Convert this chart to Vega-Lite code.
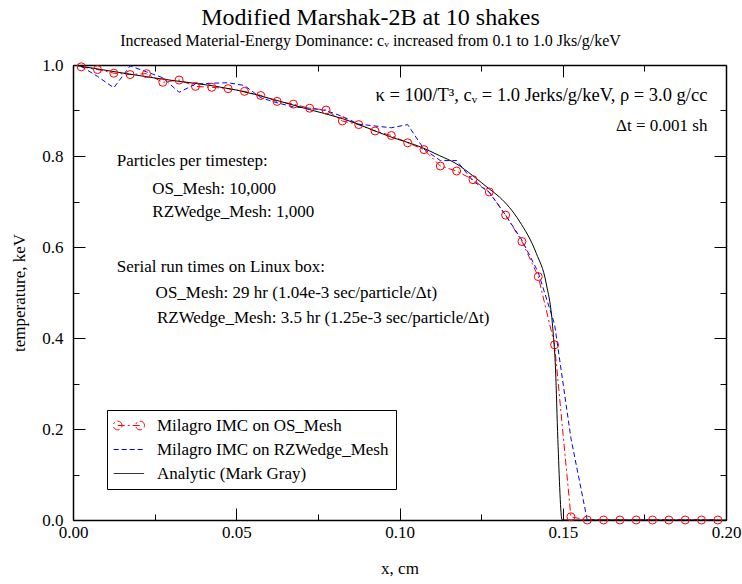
{
  "$schema": "https://vega.github.io/schema/vega-lite/v6.json",
  "width": 653,
  "height": 455,
  "autosize": "none",
  "padding": {"left": 73, "top": 65, "right": 16, "bottom": 64},
  "background": "white",
  "title": {
    "text": "Modified Marshak-2B at 10 shakes",
    "subtitle": "Increased Material-Energy Dominance: cᵥ increased from 0.1 to 1.0 Jks/g/keV",
    "font": "Liberation Serif",
    "fontSize": 24,
    "fontWeight": "normal",
    "color": "black",
    "subtitleFont": "Liberation Serif",
    "subtitleFontSize": 16,
    "subtitleColor": "black",
    "subtitlePadding": 3,
    "anchor": "middle",
    "dx": -29,
    "offset": 7
  },
  "config": {
    "view": {"stroke": null},
    "axis": {
      "domain": false,
      "grid": false,
      "offset": 0,
      "labelFont": "Liberation Serif",
      "labelFontSize": 17,
      "labelColor": "black",
      "labelFlush": false,
      "labelOverlap": false,
      "titleFont": "Liberation Serif",
      "titleFontSize": 17,
      "titleFontWeight": "normal",
      "titleColor": "black",
      "tickColor": "black",
      "tickWidth": 1,
      "domainColor": "black",
      "domainWidth": 1.5
    }
  },
  "datasets": {
    "curves": [
      {"series": "Milagro IMC on OS_Mesh", "x": 0.0025, "T": 0.996},
      {"series": "Milagro IMC on OS_Mesh", "x": 0.0075, "T": 0.990},
      {"series": "Milagro IMC on OS_Mesh", "x": 0.0125, "T": 0.982},
      {"series": "Milagro IMC on OS_Mesh", "x": 0.0175, "T": 0.979},
      {"series": "Milagro IMC on OS_Mesh", "x": 0.0225, "T": 0.981},
      {"series": "Milagro IMC on OS_Mesh", "x": 0.0275, "T": 0.962},
      {"series": "Milagro IMC on OS_Mesh", "x": 0.0325, "T": 0.967},
      {"series": "Milagro IMC on OS_Mesh", "x": 0.0375, "T": 0.953},
      {"series": "Milagro IMC on OS_Mesh", "x": 0.0425, "T": 0.951},
      {"series": "Milagro IMC on OS_Mesh", "x": 0.0475, "T": 0.948},
      {"series": "Milagro IMC on OS_Mesh", "x": 0.0525, "T": 0.942},
      {"series": "Milagro IMC on OS_Mesh", "x": 0.0575, "T": 0.933},
      {"series": "Milagro IMC on OS_Mesh", "x": 0.0625, "T": 0.920},
      {"series": "Milagro IMC on OS_Mesh", "x": 0.0675, "T": 0.914},
      {"series": "Milagro IMC on OS_Mesh", "x": 0.0725, "T": 0.905},
      {"series": "Milagro IMC on OS_Mesh", "x": 0.0775, "T": 0.901},
      {"series": "Milagro IMC on OS_Mesh", "x": 0.0825, "T": 0.877},
      {"series": "Milagro IMC on OS_Mesh", "x": 0.0875, "T": 0.869},
      {"series": "Milagro IMC on OS_Mesh", "x": 0.0925, "T": 0.855},
      {"series": "Milagro IMC on OS_Mesh", "x": 0.0975, "T": 0.845},
      {"series": "Milagro IMC on OS_Mesh", "x": 0.1025, "T": 0.829},
      {"series": "Milagro IMC on OS_Mesh", "x": 0.1075, "T": 0.814},
      {"series": "Milagro IMC on OS_Mesh", "x": 0.1125, "T": 0.778},
      {"series": "Milagro IMC on OS_Mesh", "x": 0.1175, "T": 0.767},
      {"series": "Milagro IMC on OS_Mesh", "x": 0.1225, "T": 0.748},
      {"series": "Milagro IMC on OS_Mesh", "x": 0.1275, "T": 0.721},
      {"series": "Milagro IMC on OS_Mesh", "x": 0.1325, "T": 0.670},
      {"series": "Milagro IMC on OS_Mesh", "x": 0.1375, "T": 0.612},
      {"series": "Milagro IMC on OS_Mesh", "x": 0.1425, "T": 0.535},
      {"series": "Milagro IMC on OS_Mesh", "x": 0.1475, "T": 0.385},
      {"series": "Milagro IMC on OS_Mesh", "x": 0.1525, "T": 0.007},
      {"series": "Milagro IMC on OS_Mesh", "x": 0.1575, "T": 0},
      {"series": "Milagro IMC on OS_Mesh", "x": 0.1625, "T": 0},
      {"series": "Milagro IMC on OS_Mesh", "x": 0.1675, "T": 0},
      {"series": "Milagro IMC on OS_Mesh", "x": 0.1725, "T": 0},
      {"series": "Milagro IMC on OS_Mesh", "x": 0.1775, "T": 0},
      {"series": "Milagro IMC on OS_Mesh", "x": 0.1825, "T": 0},
      {"series": "Milagro IMC on OS_Mesh", "x": 0.1875, "T": 0},
      {"series": "Milagro IMC on OS_Mesh", "x": 0.1925, "T": 0},
      {"series": "Milagro IMC on OS_Mesh", "x": 0.1975, "T": 0},
      {"series": "Milagro IMC on RZWedge_Mesh", "x": 0.0025, "T": 0.997},
      {"series": "Milagro IMC on RZWedge_Mesh", "x": 0.0075, "T": 0.975},
      {"series": "Milagro IMC on RZWedge_Mesh", "x": 0.0125, "T": 0.950},
      {"series": "Milagro IMC on RZWedge_Mesh", "x": 0.0175, "T": 0.998},
      {"series": "Milagro IMC on RZWedge_Mesh", "x": 0.0225, "T": 0.985},
      {"series": "Milagro IMC on RZWedge_Mesh", "x": 0.0275, "T": 0.972},
      {"series": "Milagro IMC on RZWedge_Mesh", "x": 0.0325, "T": 0.940},
      {"series": "Milagro IMC on RZWedge_Mesh", "x": 0.0375, "T": 0.958},
      {"series": "Milagro IMC on RZWedge_Mesh", "x": 0.0425, "T": 0.960},
      {"series": "Milagro IMC on RZWedge_Mesh", "x": 0.0475, "T": 0.961},
      {"series": "Milagro IMC on RZWedge_Mesh", "x": 0.0525, "T": 0.955},
      {"series": "Milagro IMC on RZWedge_Mesh", "x": 0.0575, "T": 0.928},
      {"series": "Milagro IMC on RZWedge_Mesh", "x": 0.0625, "T": 0.917},
      {"series": "Milagro IMC on RZWedge_Mesh", "x": 0.0675, "T": 0.908},
      {"series": "Milagro IMC on RZWedge_Mesh", "x": 0.0725, "T": 0.905},
      {"series": "Milagro IMC on RZWedge_Mesh", "x": 0.0775, "T": 0.900},
      {"series": "Milagro IMC on RZWedge_Mesh", "x": 0.0825, "T": 0.887},
      {"series": "Milagro IMC on RZWedge_Mesh", "x": 0.0875, "T": 0.870},
      {"series": "Milagro IMC on RZWedge_Mesh", "x": 0.0925, "T": 0.866},
      {"series": "Milagro IMC on RZWedge_Mesh", "x": 0.0975, "T": 0.862},
      {"series": "Milagro IMC on RZWedge_Mesh", "x": 0.1025, "T": 0.869},
      {"series": "Milagro IMC on RZWedge_Mesh", "x": 0.1075, "T": 0.815},
      {"series": "Milagro IMC on RZWedge_Mesh", "x": 0.1125, "T": 0.790},
      {"series": "Milagro IMC on RZWedge_Mesh", "x": 0.1175, "T": 0.790},
      {"series": "Milagro IMC on RZWedge_Mesh", "x": 0.1225, "T": 0.745},
      {"series": "Milagro IMC on RZWedge_Mesh", "x": 0.1275, "T": 0.720},
      {"series": "Milagro IMC on RZWedge_Mesh", "x": 0.1325, "T": 0.670},
      {"series": "Milagro IMC on RZWedge_Mesh", "x": 0.1375, "T": 0.615},
      {"series": "Milagro IMC on RZWedge_Mesh", "x": 0.1425, "T": 0.544},
      {"series": "Milagro IMC on RZWedge_Mesh", "x": 0.1475, "T": 0.430},
      {"series": "Milagro IMC on RZWedge_Mesh", "x": 0.1525, "T": 0.180},
      {"series": "Milagro IMC on RZWedge_Mesh", "x": 0.1575, "T": 0},
      {"series": "Milagro IMC on RZWedge_Mesh", "x": 0.1975, "T": 0},
      {"series": "Analytic (Mark Gray)", "x": 0.0, "T": 1.0},
      {"series": "Analytic (Mark Gray)", "x": 0.0245, "T": 0.972},
      {"series": "Analytic (Mark Gray)", "x": 0.05, "T": 0.945},
      {"series": "Analytic (Mark Gray)", "x": 0.0724, "T": 0.902},
      {"series": "Analytic (Mark Gray)", "x": 0.0826, "T": 0.882},
      {"series": "Analytic (Mark Gray)", "x": 0.0969, "T": 0.843},
      {"series": "Analytic (Mark Gray)", "x": 0.1071, "T": 0.818},
      {"series": "Analytic (Mark Gray)", "x": 0.1122, "T": 0.801},
      {"series": "Analytic (Mark Gray)", "x": 0.1174, "T": 0.783},
      {"series": "Analytic (Mark Gray)", "x": 0.1224, "T": 0.757},
      {"series": "Analytic (Mark Gray)", "x": 0.1276, "T": 0.727},
      {"series": "Analytic (Mark Gray)", "x": 0.1306, "T": 0.710},
      {"series": "Analytic (Mark Gray)", "x": 0.1367, "T": 0.657},
      {"series": "Analytic (Mark Gray)", "x": 0.1419, "T": 0.586},
      {"series": "Analytic (Mark Gray)", "x": 0.1449, "T": 0.521},
      {"series": "Analytic (Mark Gray)", "x": 0.1469, "T": 0.425},
      {"series": "Analytic (Mark Gray)", "x": 0.1478, "T": 0.330},
      {"series": "Analytic (Mark Gray)", "x": 0.1485, "T": 0.177},
      {"series": "Analytic (Mark Gray)", "x": 0.1498, "T": 0.0},
      {"series": "Analytic (Mark Gray)", "x": 0.2, "T": 0.0}
    ]
  },
  "data": {"name": "curves"},
  "resolve": {"axis": {"x": "independent", "y": "independent"}},
  "layer": [
    {
      "transform": [{"filter": "datum.series === 'Milagro IMC on OS_Mesh'"}],
      "mark": {"type": "line", "strokeWidth": 1, "strokeDash": [7, 3, 2, 3], "clip": true},
      "encoding": {
        "x": {"field": "x", "type": "quantitative",
              "scale": {"domain": [0, 0.2], "nice": false, "zero": false},
              "axis": {"orient": "bottom", "domain": true, "values": [0, 0.05, 0.1, 0.15, 0.2], "format": ".2f", "tickSize": -12, "labelPadding": 16, "title": "x, cm", "titlePadding": 20}},
        "y": {"field": "T", "type": "quantitative",
              "scale": {"domain": [0, 1], "nice": false, "zero": false},
              "axis": {"orient": "left", "domain": true, "values": [0, 0.2, 0.4, 0.6, 0.8, 1.0], "format": ".1f", "tickSize": -12, "labelPadding": 22, "title": "temperature, keV", "titlePadding": 13}},
        "color": {"field": "series", "type": "nominal",
                  "scale": {"domain": ["Milagro IMC on OS_Mesh", "Milagro IMC on RZWedge_Mesh", "Analytic (Mark Gray)"], "range": ["#ff0000", "#0000ff", "#000000"]},
                  "legend": {
                    "orient": "none", "legendX": 34, "legendY": 345, "title": null,
                    "symbolType": "M-1.1,0L2.7,0", "symbolSize": 256, "symbolStrokeWidth": 1,
                    "symbolFillColor": "transparent",
                    "labelFont": "Liberation Serif", "labelFontSize": 17, "labelColor": "black", "labelLimit": 400,
                    "labelOffset": 26, "rowPadding": 6, "padding": 7,
                    "strokeColor": "black", "fillColor": "white",
                    "encode": {"symbols": {
                      "update": {
                      "shape": {"signal": "datum.value === 'Milagro IMC on OS_Mesh' ? 'M-0.6,0L2.2,0M-0.05,0A0.55,0.55,0,1,0,-1.15,0A0.55,0.55,0,1,0,-0.05,0M2.75,0A0.55,0.55,0,1,0,1.65,0A0.55,0.55,0,1,0,2.75,0' : 'M-1.1,0L2.7,0'"},
                      "strokeDash": {"signal": "datum.value === 'Milagro IMC on OS_Mesh' ? [7, 3, 2, 3] : (indexof(datum.value, 'RZWedge') >= 0 ? [5, 3] : [1, 0])"},
                      "fill": {"value": "transparent"}
                    }}}
                  }}
      }
    },
    {
      "transform": [{"filter": "datum.series === 'Milagro IMC on RZWedge_Mesh'"}],
      "mark": {"type": "line", "strokeWidth": 1, "strokeDash": [5, 3], "clip": true},
      "encoding": {
        "x": {"field": "x", "type": "quantitative",
              "axis": {"orient": "bottom", "values": [0.025, 0.075, 0.125, 0.175], "tickSize": -6, "labels": false, "title": null}},
        "y": {"field": "T", "type": "quantitative",
              "axis": {"orient": "left", "values": [0.1, 0.3, 0.5, 0.7, 0.9], "tickSize": -6, "labels": false, "title": null}},
        "color": {"field": "series", "type": "nominal", "legend": null}
      }
    },
    {
      "transform": [{"filter": "datum.series === 'Analytic (Mark Gray)'"}],
      "mark": {"type": "line", "strokeWidth": 1, "interpolate": "monotone", "clip": true},
      "encoding": {
        "x": {"field": "x", "type": "quantitative",
              "axis": {"orient": "top", "domain": true, "values": [0, 0.05, 0.1, 0.15, 0.2], "tickSize": -12, "labels": false, "title": null}},
        "y": {"field": "T", "type": "quantitative",
              "axis": {"orient": "left", "offset": -653, "domain": true, "values": [0, 0.2, 0.4, 0.6, 0.8, 1.0], "tickSize": 12, "labels": false, "title": null}},
        "color": {"field": "series", "type": "nominal", "legend": null}
      }
    },
    {
      "transform": [{"filter": "datum.series === 'Milagro IMC on OS_Mesh'"}],
      "mark": {"type": "point", "shape": "circle", "filled": false, "size": 64, "strokeWidth": 1, "color": "#ff0000", "opacity": 1},
      "encoding": {
        "x": {"field": "x", "type": "quantitative",
              "axis": {"orient": "top", "values": [0.025, 0.075, 0.125, 0.175], "tickSize": -6, "labels": false, "title": null}},
        "y": {"field": "T", "type": "quantitative",
              "axis": {"orient": "left", "offset": -653, "values": [0.1, 0.3, 0.5, 0.7, 0.9], "tickSize": 6, "labels": false, "title": null}}
      }
    },
    {
      "data": {"values": [{"t": "κ = 100/T³, cᵥ = 1.0 Jerks/g/keV, ρ = 3.0 g/cc"}]},
      "mark": {"type": "text", "align": "right", "baseline": "alphabetic", "font": "Liberation Serif", "fontSize": 18.5, "color": "black"},
      "encoding": {"x": {"datum": 0.1943, "type": "quantitative", "axis": null}, "y": {"datum": 0.920, "type": "quantitative", "axis": null}, "text": {"field": "t"}}
    },
    {
      "data": {"values": [{"t": "Δt = 0.001 sh"}]},
      "mark": {"type": "text", "align": "right", "baseline": "alphabetic", "font": "Liberation Serif", "fontSize": 17, "color": "black"},
      "encoding": {"x": {"datum": 0.1943, "type": "quantitative", "axis": null}, "y": {"datum": 0.856, "type": "quantitative", "axis": null}, "text": {"field": "t"}}
    },
    {
      "data": {"values": [{"t": "Particles per timestep:"}]},
      "mark": {"type": "text", "align": "left", "baseline": "alphabetic", "font": "Liberation Serif", "fontSize": 17, "color": "black"},
      "encoding": {"x": {"datum": 0.0134, "type": "quantitative", "axis": null}, "y": {"datum": 0.778, "type": "quantitative", "axis": null}, "text": {"field": "t"}}
    },
    {
      "data": {"values": [{"t": "OS_Mesh: 10,000"}]},
      "mark": {"type": "text", "align": "left", "baseline": "alphabetic", "font": "Liberation Serif", "fontSize": 17, "color": "black"},
      "encoding": {"x": {"datum": 0.0243, "type": "quantitative", "axis": null}, "y": {"datum": 0.717, "type": "quantitative", "axis": null}, "text": {"field": "t"}}
    },
    {
      "data": {"values": [{"t": "RZWedge_Mesh: 1,000"}]},
      "mark": {"type": "text", "align": "left", "baseline": "alphabetic", "font": "Liberation Serif", "fontSize": 17, "color": "black"},
      "encoding": {"x": {"datum": 0.0243, "type": "quantitative", "axis": null}, "y": {"datum": 0.6655, "type": "quantitative", "axis": null}, "text": {"field": "t"}}
    },
    {
      "data": {"values": [{"t": "Serial run times on Linux box:"}]},
      "mark": {"type": "text", "align": "left", "baseline": "alphabetic", "font": "Liberation Serif", "fontSize": 17, "color": "black"},
      "encoding": {"x": {"datum": 0.0134, "type": "quantitative", "axis": null}, "y": {"datum": 0.5446, "type": "quantitative", "axis": null}, "text": {"field": "t"}}
    },
    {
      "data": {"values": [{"t": "OS_Mesh: 29 hr (1.04e-3 sec/particle/Δt)"}]},
      "mark": {"type": "text", "align": "left", "baseline": "alphabetic", "font": "Liberation Serif", "fontSize": 17, "color": "black"},
      "encoding": {"x": {"datum": 0.0253, "type": "quantitative", "axis": null}, "y": {"datum": 0.4883, "type": "quantitative", "axis": null}, "text": {"field": "t"}}
    },
    {
      "data": {"values": [{"t": "RZWedge_Mesh: 3.5 hr (1.25e-3 sec/particle/Δt)"}]},
      "mark": {"type": "text", "align": "left", "baseline": "alphabetic", "font": "Liberation Serif", "fontSize": 17, "color": "black"},
      "encoding": {"x": {"datum": 0.0257, "type": "quantitative", "axis": null}, "y": {"datum": 0.4334, "type": "quantitative", "axis": null}, "text": {"field": "t"}}
    }
  ]
}
